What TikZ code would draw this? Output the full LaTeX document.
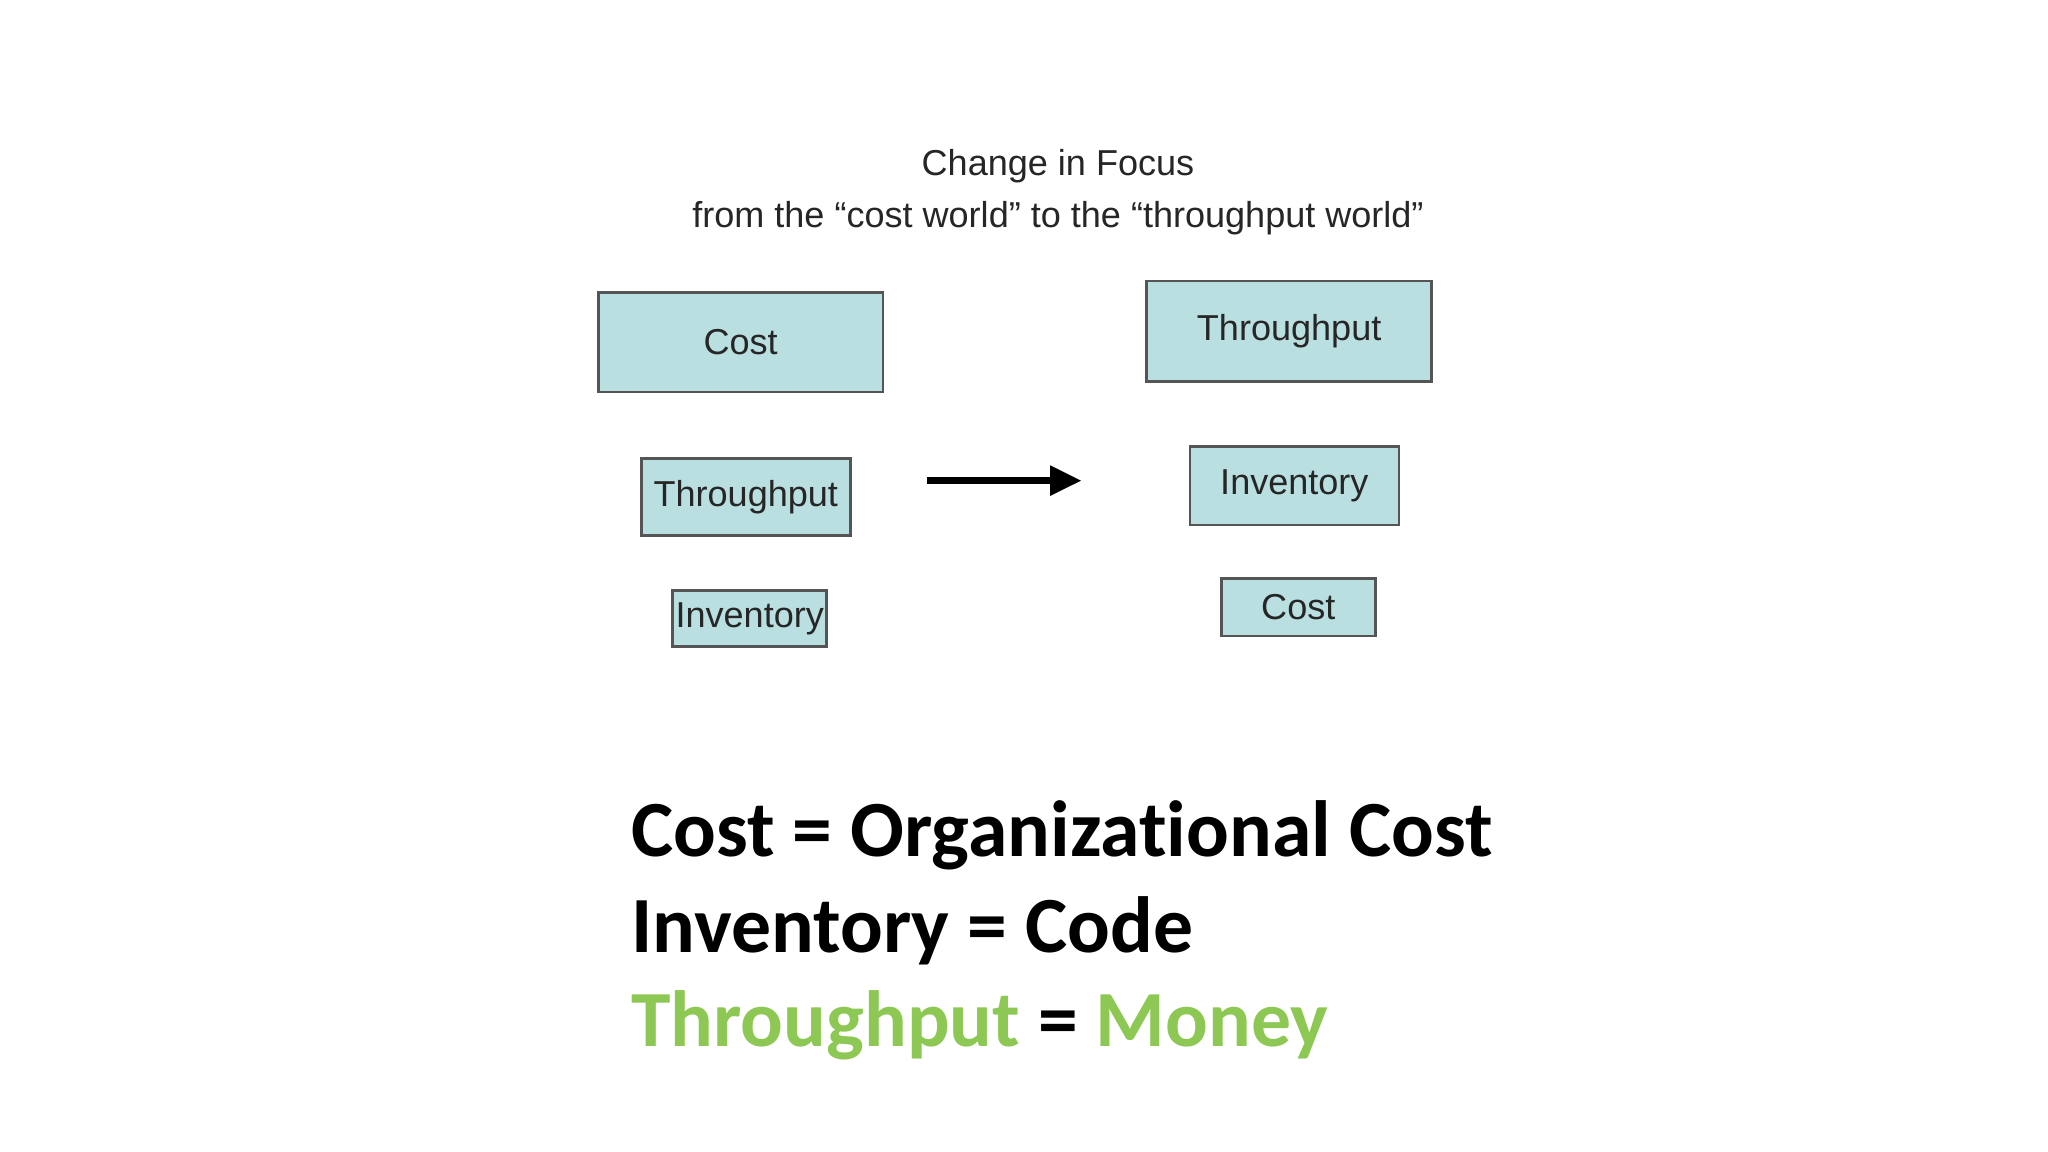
\documentclass[tikz,border=0pt]{standalone}
\usepackage{fontspec}
\setmainfont{Liberation Sans}
\newfontfamily\calib[Ligatures=NoCommon]{Carlito}
\usetikzlibrary{arrows.meta}
\definecolor{boxfill}{HTML}{B9DFE0}
\definecolor{boxline}{HTML}{555555}
\definecolor{mgreen}{HTML}{8DC854}
\begin{document}
\begin{tikzpicture}[x=0.5pt,y=-0.5pt,
  fbox/.style={draw=boxline,line width=1pt,fill=boxfill},
  lbl/.style={font=\fontsize{13.8}{16}\selectfont,text=black!85},
  big/.style={font=\calib\bfseries\fontsize{30.5}{36}\selectfont,anchor=base west,inner sep=0}]
\fill[white] (0,0) rectangle (1568,882);
\node[lbl] (t1) at (810,127) {Change in Focus};
\node[lbl] (t2) at (810,167) {from the “cost world” to the “throughput world”};
\draw[fbox] (458,224) rectangle (676,300) node[midway,lbl] (c1) {Cost};
\draw[fbox] (491,351) rectangle (651,410) node[midway,lbl] (tp1) {Throughput};
\draw[fbox] (515,452) rectangle (633,495) node[midway,lbl] (i1) {Inventory};
\draw[fbox] (878,215) rectangle (1096,292) node[midway,lbl] (tp2) {Throughput};
\draw[fbox] (911,342) rectangle (1071,402) node[midway,lbl] (i2) {Inventory};
\draw[fbox] (935,443) rectangle (1053,487) node[midway,lbl] (c2) {Cost};
\coordinate (a1) at (710,368);
\coordinate (a2) at (828,368);
\draw[line width=2.5pt,-{Triangle[length=12pt,width=11pt]}] (a1) -- (a2);
\node[big] (b1) at (483,656) {Cost = Organizational Cost};
\node[big] (b2) at (483,729) {Inventory = Code};
\node[big] (b3) at (483,801) {\textcolor{mgreen}{Throughput} = \textcolor{mgreen}{Money}};
\end{tikzpicture}
\end{document}
